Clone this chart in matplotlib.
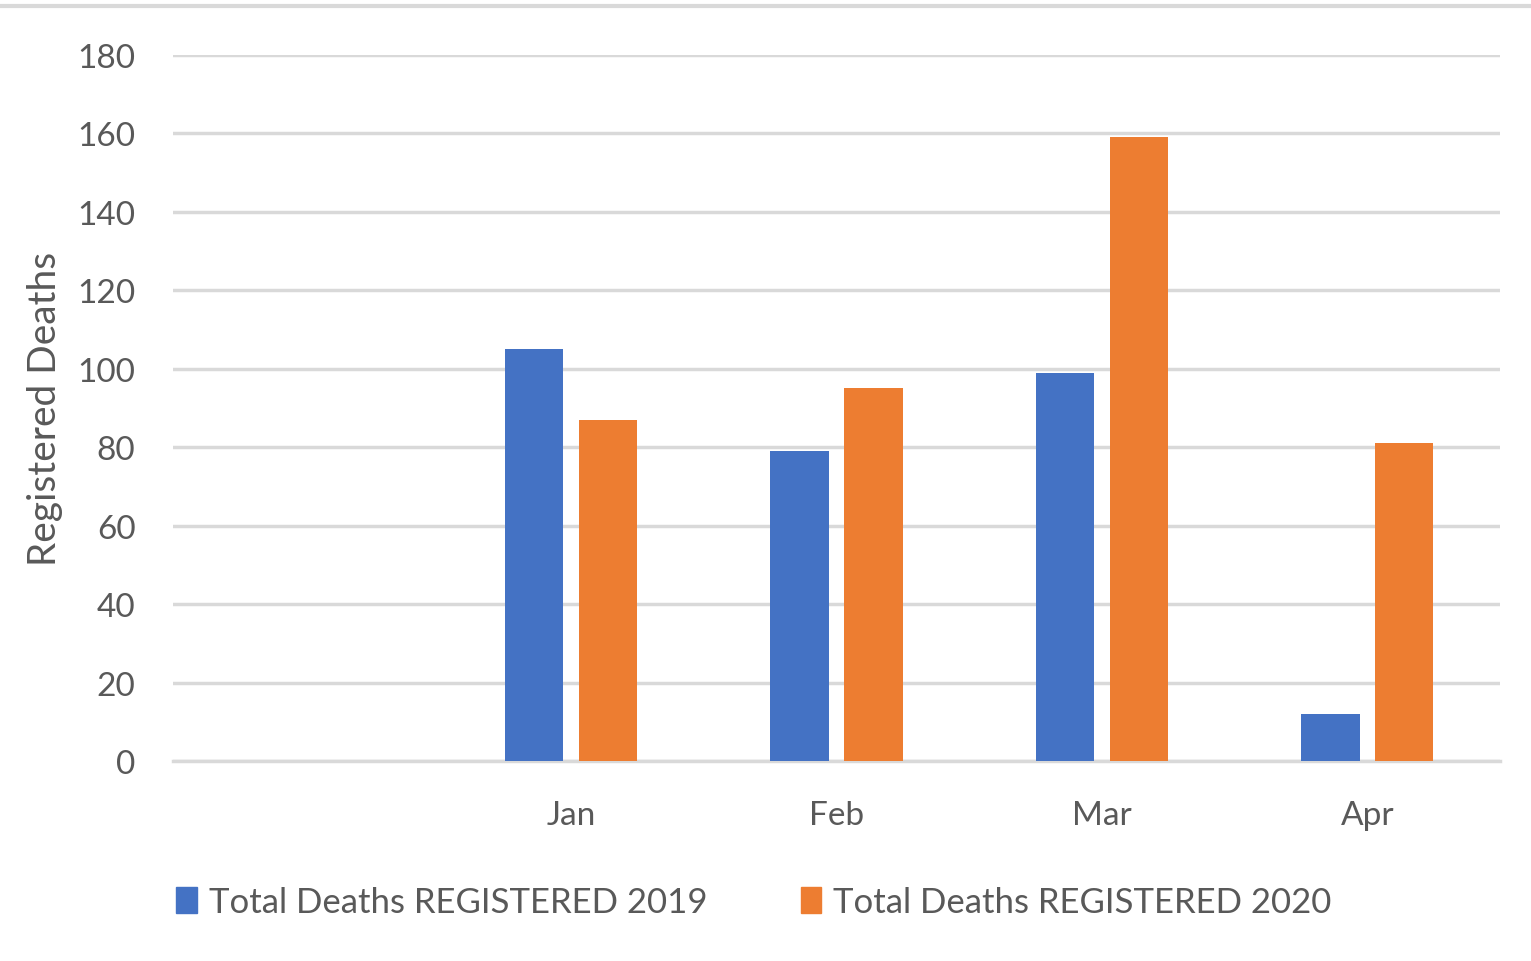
import matplotlib
matplotlib.use("Agg")
import matplotlib.pyplot as plt
from matplotlib.lines import Line2D
from matplotlib.patches import Patch
import numpy as np

categories = ["", "Jan", "Feb", "Mar", "Apr"]
deaths_2019 = [np.nan, 105, 79, 99, 12]
deaths_2020 = [np.nan, 87, 95, 159, 81]
series_labels = ["Total Deaths REGISTERED 2019", "Total Deaths REGISTERED 2020"]
yticks = [0, 20, 40, 60, 80, 100, 120, 140, 160, 180]

plt.rcParams['font.family'] = ['Lato', 'DejaVu Sans']
blue = "#4472C4"
orange = "#ED7D31"
grid = "#D9D9D9"
txt = "#595959"

fig = plt.figure(figsize=(15.31, 9.62), dpi=100)
ax = fig.add_axes([173/1531, 1-762/962, (1500-173)/1531, (762-56)/962])

x = np.arange(len(categories))
w = 0.22
ax.bar(x - 0.139, deaths_2019, w, color=blue, zorder=3)
ax.bar(x + 0.139, deaths_2020, w, color=orange, zorder=3)

ax.set_xlim(-0.5, len(categories) - 0.5)
ax.set_ylim(0, 180)
ax.set_yticks(yticks)
ax.set_xticks(x)
ax.set_xticklabels(categories)
ax.yaxis.grid(True, color=grid, linewidth=2.5, zorder=0)
for s in ["top", "right", "left"]:
    ax.spines[s].set_visible(False)
ax.spines["bottom"].set_color(grid)
ax.spines["bottom"].set_linewidth(2.5)
ax.tick_params(axis='both', length=0, labelsize=24, colors=txt)
ax.tick_params(axis='y', pad=27)
ax.tick_params(axis='x', pad=28)
ax.set_ylabel("Registered Deaths", fontsize=28, color=txt, labelpad=10)

# top border line
fig.add_artist(Line2D([0, 1], [1-7/962, 1-7/962], color=grid, linewidth=3, transform=fig.transFigure))

handles = [Patch(color=blue), Patch(color=orange)]
fig.legend(handles, series_labels, loc='center', bbox_to_anchor=(754/1531, 1-903/962),
           ncol=2, frameon=False, fontsize=25, labelcolor=txt, handlelength=0.58,
           handleheight=0.75, handletextpad=0.35, columnspacing=2.7)

fig.savefig("out.png", dpi=100, facecolor="white")
